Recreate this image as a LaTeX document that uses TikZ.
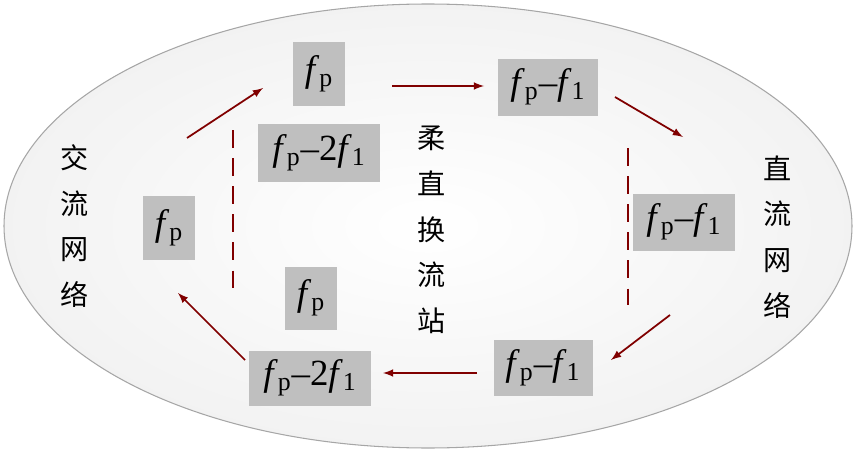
\documentclass[tikz,border=0pt]{standalone}
\usepackage{fontspec}
\setmainfont{Liberation Serif}
\newfontfamily\cjk{Noto Sans CJK SC}
\begin{document}
\begin{tikzpicture}[x=0.02cm,y=-0.02cm,
  box/.style={fill=gray!50,inner sep=0pt,font=\fontsize{21}{22}\selectfont},
  arr/.style={->,>=latex,draw=red!50!black,line width=1pt},
  dsh/.style={draw=red!50!black,dash pattern=on 10pt off 6pt,line width=0.8pt},
  lab/.style={font=\cjk\fontsize{16}{26}\selectfont,align=center}]
\useasboundingbox (0,0) rectangle (856,453);
\draw[gray!70,inner color=white,outer color=gray!10,line width=0.6pt] (428,226) ellipse [x radius=424, y radius=-222];
\newcommand{\fp}{\textit{f}\textsubscript{p}}
\newcommand{\fo}{\textit{f}\textsubscript{1}}
\node[box,minimum width=52*0.02cm,minimum height=64*0.02cm] (a) at (319,74) {\fp};
\node[box,minimum width=122*0.02cm,minimum height=58*0.02cm] (b) at (319,153) {\fp–2\fo};
\node[box,minimum width=100*0.02cm,minimum height=57*0.02cm] (c) at (548,87) {\fp–\fo};
\node[box,minimum width=52*0.02cm,minimum height=64*0.02cm] (d) at (169,228) {\fp};
\node[box,minimum width=102*0.02cm,minimum height=57*0.02cm] (e) at (684,222) {\fp–\fo};
\node[box,minimum width=52*0.02cm,minimum height=63*0.02cm] (f) at (311,298) {\fp};
\node[box,minimum width=122*0.02cm,minimum height=55*0.02cm] (g) at (310,378) {\fp–2\fo};
\node[box,minimum width=99*0.02cm,minimum height=56*0.02cm] (h) at (543,368) {\fp–\fo};
\coordinate (a1) at (187,138); \coordinate (a2) at (263,88);
\coordinate (b1) at (392,86); \coordinate (b2) at (484,86);
\coordinate (c1) at (615,97); \coordinate (c2) at (683,137);
\coordinate (d1) at (670,315); \coordinate (d2) at (611,360);
\coordinate (e1) at (477,373); \coordinate (e2) at (383,373);
\coordinate (f1) at (245,360); \coordinate (f2) at (178,293);
\draw[arr] (a1)--(a2); \draw[arr] (b1)--(b2); \draw[arr] (c1)--(c2);
\draw[arr] (d1)--(d2); \draw[arr] (e1)--(e2); \draw[arr] (f1)--(f2);
\coordinate (l1) at (233,130); \coordinate (l2) at (233,298);
\coordinate (r1) at (628,148); \coordinate (r2) at (628,305);
\draw[dsh] (l1)--(l2); \draw[dsh] (r1)--(r2);
\node[lab] (t1) at (75,226) {交\\流\\网\\络};
\node[lab] (t2) at (432,230) {柔\\直\\换\\流\\站};
\node[lab] (t3) at (778,237) {直\\流\\网\\络};
\end{tikzpicture}
\end{document}
